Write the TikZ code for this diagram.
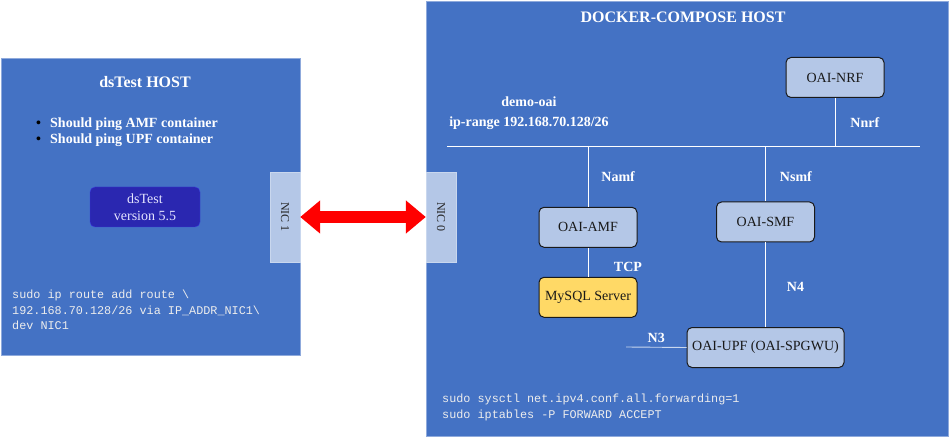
\documentclass[tikz,border=0pt]{standalone}
\usepackage{fontspec}
\setmainfont{Liberation Serif}
\setmonofont{Liberation Mono}
\usetikzlibrary{positioning}
\usetikzlibrary{arrows.meta}

\definecolor{hostblue}{HTML}{4472C4}
\definecolor{hostline}{HTML}{8FAADC}
\definecolor{nicblue}{HTML}{B4C7E7}
\definecolor{nicline}{HTML}{C9D7EE}
\definecolor{testblue}{HTML}{2A27B0}
\definecolor{testline}{HTML}{3B3BE0}
\definecolor{sqlyellow}{HTML}{FFD966}
\definecolor{codegray}{HTML}{EDEDED}

\begin{document}
\begin{tikzpicture}[x=1pt,y=-1pt,
	host/.style={draw=hostline,fill=hostblue,line width=0.8pt,anchor=north west,inner sep=0},
	nic/.style={draw=nicline,fill=nicblue,minimum width=30pt,minimum height=90pt,inner sep=0},
	nictext/.style={rotate=-90,font=\fontsize{12}{12}\selectfont,text=black!85},
	nf/.style={draw=black!90,fill=nicblue,rounded corners=5pt,line width=1pt,minimum width=98pt,minimum height=40pt,inner sep=0,font=\fontsize{14}{16}\selectfont,text=black!90},
	title/.style={text=white,font=\fontsize{16}{18}\selectfont\bfseries},
	lbl/.style={text=white,font=\fontsize{14}{20}\selectfont\bfseries,inner sep=0},
	code/.style={text=codegray,font=\fontsize{11.8}{15.3}\selectfont\ttfamily,align=left,anchor=north west,inner sep=0},
	link/.style={draw=white,line width=0.9pt}]

	\useasboundingbox (0,0) rectangle (950,438);

	% Place nodes
	\node [host,minimum width=299pt,minimum height=297pt] (dshost) at (1,58) {};
	\node [host,minimum width=522pt,minimum height=435pt] (dchost) at (426,1) {};
	\node [title] (dstitle) at (145,82) {dsTest HOST};
	\node [title] (dctitle) at (683,17) {DOCKER-COMPOSE HOST};

	\node [lbl,anchor=west,align=left,font=\fontsize{14}{16}\selectfont\bfseries] (ping) at (36,132)
		{\makebox[14pt][l]{\color{black}\textbullet}Should ping AMF container\\
		 \makebox[14pt][l]{\color{black}\textbullet}Should ping UPF container};
	\node [draw=testline,fill=testblue,rounded corners=5pt,minimum width=110pt,minimum height=40pt,
		align=center,text=white!90!blue,font=\fontsize{14}{16.5}\selectfont] (dstest) at (145,207) {dsTest\\ version 5.5};
	\node [code] (route) at (12,290) {sudo ip route add route \textbackslash\\
		192.168.70.128/26 via IP\_ADDR\_NIC1\textbackslash\\
		dev NIC1};

	\node [nic] (nic1) at (285,217) {};
	\node [nictext] at (nic1) {NIC 1};
	\node [nic] (nic0) at (441,217) {};
	\node [nictext] at (nic0) {NIC 0};

	\node [lbl,align=center] (net) at (529,113) {demo-oai\\ ip-range 192.168.70.128/26};
	\coordinate (busW) at (447,146);
	\coordinate (busE) at (920,146);

	\node [nf] (nrf) at (835,77.5) {OAI-NRF};
	\node [nf] (amf) at (588,227.3) {OAI-AMF};
	\node [nf] (smf) at (765.5,222) {OAI-SMF};
	\node [nf,fill=sqlyellow] (sql) at (588,297.3) {MySQL Server};
	\node [nf,minimum width=157pt] (upf) at (765.5,347.5) {OAI-UPF (OAI-SPGWU)};
	\coordinate (n3end) at (626,347);

	\node [code] (fwd) at (442,394) {sudo sysctl net.ipv4.conf.all.forwarding=1\\
		sudo iptables -P FORWARD ACCEPT};

	% Links
	\draw [link] (busW) -- (busE);
	\draw [link] (nrf.south) -- (nrf.south |- busW) node [lbl,pos=0.52,right=15pt] {Nnrf};
	\draw [link] (amf.north |- busW) -- (amf.north) node [lbl,midway,right=13pt] {Namf};
	\draw [link] (smf.north |- busW) -- (smf.north) node [lbl,pos=0.56,right=14pt] {Nsmf};
	\draw [link] (amf.south) -- (sql.north) node [lbl,pos=0.65,right=25.5pt] {TCP};
	\draw [link] (smf.south) -- (upf.north) node [lbl,pos=0.53,right=21pt] {N4};
	\draw [link,draw=nicline] (n3end) -- (upf.west) node [lbl,midway,above=4pt] {N3};

	\draw [red,line width=12.5pt,{Triangle[length=20pt,width=32pt]}-{Triangle[length=20pt,width=32pt]}]
		(nic1.east) -- (nic0.west);
\end{tikzpicture}
\end{document}
